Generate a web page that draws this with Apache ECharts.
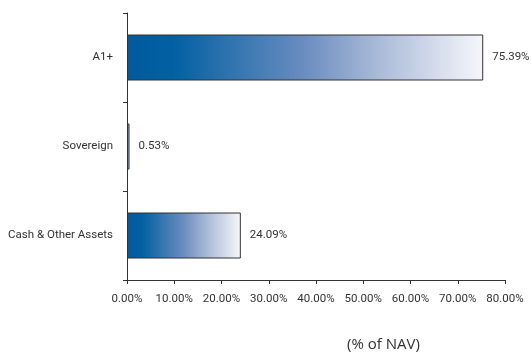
<!DOCTYPE html>
<html lang="en">
<head>
  <meta charset="UTF-8">
  <title>Rating Profile</title>
  <style type="text/css">
    html, body { margin: 0; padding: 0; background: #fff; }
    #chart { width: 531px; height: 356px; }
  </style>
</head>
<body>
  <div id="chart"></div>
  <script src="https://cdn.jsdelivr.net/npm/echarts@6/dist/echarts.min.js"></script>
  <script>
    const categories = ['Cash & Other Assets', 'Sovereign', 'A1+']
    const values = [24.09, 0.53, 75.39]
    const axisTitle = '(% of NAV)'

    // no condensed face installed, a small Roboto keeps the widths close
    const narrow = 'Roboto, "Liberation Sans", sans-serif'

    const barFill = new echarts.graphic.LinearGradient(0, 0, 1, 0, [
      { offset: 0, color: '#005a9e' },
      { offset: 0.13, color: '#0260a2' },
      { offset: 0.5, color: '#6b8dc0' },
      { offset: 0.68, color: '#a3b5d5' },
      { offset: 1, color: '#f6f7fb' }
    ])

    const myChart = echarts.init(document.getElementById('chart'))

    const option = {
      animation: false,
      grid: { left: 127, right: 26, top: 13, bottom: 76, containLabel: false, outerBoundsMode: 'none' },
      xAxis: {
        type: 'value',
        min: 0,
        max: 80,
        interval: 10,
        splitLine: { show: false },
        axisLine: { show: true, lineStyle: { color: '#333', width: 1 } },
        axisTick: { show: true, length: 4, lineStyle: { color: '#333' } },
        axisLabel: {
          color: '#333',
          fontFamily: narrow,
          fontSize: 11.5,
          margin: 13,
          formatter: v => v.toFixed(2) + '%'
        }
      },
      yAxis: {
        type: 'category',
        data: categories,
        boundaryGap: true,
        axisLine: { show: true, lineStyle: { color: '#333', width: 1 } },
        axisTick: { show: true, length: 4, alignWithLabel: false, lineStyle: { color: '#333' } },
        axisLabel: {
          color: '#333',
          fontFamily: narrow,
          fontSize: 11.5,
          margin: 14
        }
      },
      series: [
        {
          type: 'bar',
          data: values,
          barWidth: 46,
          itemStyle: {
            color: barFill,
            borderColor: '#333',
            borderWidth: 1
          },
          label: {
            show: true,
            position: 'right',
            distance: 9,
            color: '#333',
            fontFamily: narrow,
            fontSize: 11.5,
            formatter: p => p.value.toFixed(2) + '%'
          }
        }
      ],
      graphic: [
        {
          type: 'text',
          left: 347,
          top: 337,
          style: {
            text: axisTitle,
            fill: '#333',
            font: '15px "Open Sans", sans-serif'
          }
        }
      ]
    }

    myChart.setOption(option)
  </script>
</body>
</html>
